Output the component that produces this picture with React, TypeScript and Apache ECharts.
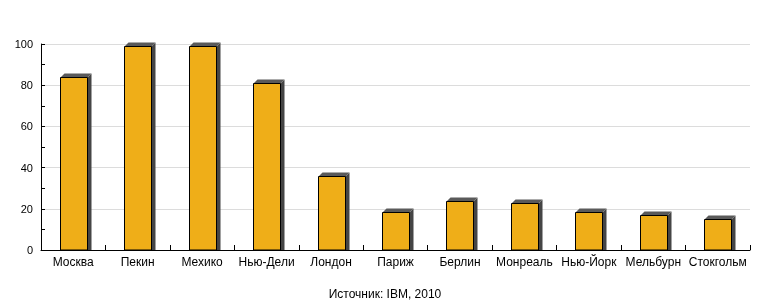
import React, { useEffect, useRef } from "react";
import * as echarts from "echarts";

const cities = ["Москва", "Пекин", "Мехико", "Нью-Дели", "Лондон", "Париж", "Берлин", "Монреаль", "Нью-Йорк", "Мельбурн", "Стокгольм"];
const values = [84, 99, 99, 81, 36, 18.5, 24, 23, 18.5, 17, 15];
const sourceText = "Источник: IBM, 2010";

export default function App() {
  const ref = useRef<HTMLDivElement>(null);
  useEffect(() => {
    const chart = echarts.init(ref.current!, undefined, { renderer: "svg" });
    const font = "'Liberation Sans', Arial, sans-serif";
    chart.setOption({
      animation: false,
      grid: { left: 41, right: 20, top: 44, bottom: 50 },
      title: {
        text: sourceText,
        left: "center",
        top: 283,
        textStyle: { fontFamily: font, fontSize: 12, fontWeight: "normal", color: "#000" },
      },
      xAxis: {
        type: "category",
        data: cities,
        axisLine: { lineStyle: { color: "#000", width: 1 } },
        axisTick: { show: true, inside: true, length: 5, lineStyle: { color: "#000" } },
        axisLabel: { color: "#000", fontFamily: font, fontSize: 12, margin: 6, interval: 0 },
        splitLine: { show: false },
      },
      yAxis: {
        type: "value",
        min: 0,
        max: 100,
        interval: 20,
        axisLine: { show: true, lineStyle: { color: "#000", width: 1 } },
        axisTick: { show: true, inside: true, length: 4, lineStyle: { color: "#000" } },
        minorTick: { show: true, splitNumber: 2, length: 4, lineStyle: { color: "#000" } },
        axisLabel: { color: "#000", fontFamily: font, fontSize: 11, margin: 8 },
        splitLine: { show: true, lineStyle: { color: "#dcdcdc", width: 1 } },
      },
      series: [
        {
          type: "custom",
          data: values.map((v, i) => [i, v]),
          encode: { x: 0, y: 1 },
          renderItem: (params: any, api: any) => {
            const idx = api.value(0);
            const v = api.value(1);
            const top = api.coord([idx, v]);
            const base = api.coord([idx, 0]);
            const w = 27;
            const d = 4;
            const l = Math.round(top[0] - w / 2) + 0.5;
            const r = l + w;
            const t = Math.round(top[1]) + 0.5;
            const b = Math.round(base[1]);
            return {
              type: "group",
              children: [
                {
                  type: "polygon",
                  shape: { points: [[r, t], [r + d, t - d], [r + d, b], [r, b]] },
                  style: { fill: "#454545", stroke: null },
                },
                {
                  type: "polygon",
                  shape: { points: [[l, t], [l + d, t - d], [r + d, t - d], [r, t]] },
                  style: { fill: "#5a5a5a", stroke: null },
                },
                {
                  type: "rect",
                  shape: { x: l, y: t, width: w, height: b - t },
                  style: { fill: "#EFAE18", stroke: "#000", lineWidth: 1 },
                },
              ],
            };
          },
        },
      ],
    });
    return () => chart.dispose();
  }, []);
  return <div ref={ref} style={{ position: "fixed", left: 0, top: 0, width: 770, height: 300 }} />;
}
